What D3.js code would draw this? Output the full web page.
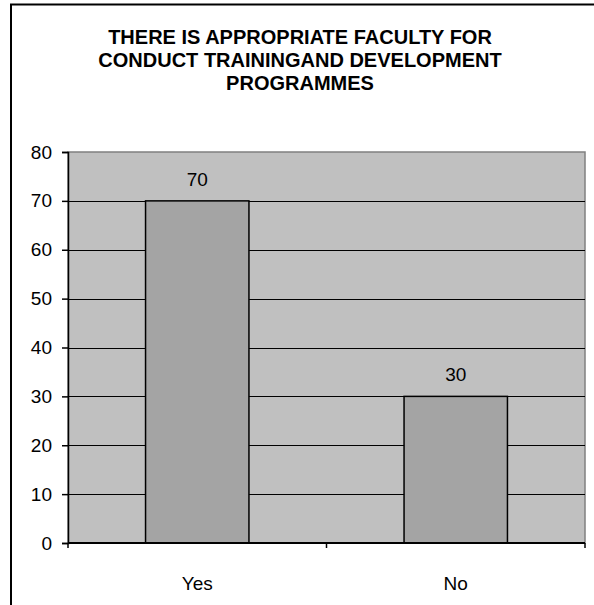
<!DOCTYPE html>
<html>
<head>
<meta charset="utf-8">
<script src="https://cdn.jsdelivr.net/npm/d3@7"></script>
<style>
  html, body { margin: 0; padding: 0; background: #ffffff; overflow: hidden; }
  svg { display: block; font-family: "Liberation Sans", Arial, sans-serif; }
</style>
</head>
<body>
<svg id="chart" width="594" height="605"></svg>
<script>
// Survey responses
const categories = ["Yes", "No"];
const values = [70, 30];
const yTicks = [0, 10, 20, 30, 40, 50, 60, 70, 80];
const titleLines = [
  "THERE IS APPROPRIATE FACULTY FOR",
  "CONDUCT TRAININGAND DEVELOPMENT",
  "PROGRAMMES"
];

const svg = d3.select("#chart");
const plot = { left: 68, right: 585, top: 152, bottom: 543 };

// Outer chart frame: only its left and top edges fall inside the page
svg.append("path")
  .attr("d", "M11,605 L11,4.5 L594,4.5")
  .attr("fill", "none")
  .attr("stroke", "#000000")
  .attr("stroke-width", 2);

// Title
const title = svg.append("text")
  .attr("text-anchor", "middle")
  .attr("font-weight", "bold")
  .attr("font-size", 20)
  .attr("fill", "#000000");
titleLines.forEach((line, i) => {
  title.append("tspan").attr("x", 300).attr("y", 44 + i * 23).text(line);
});

const x = d3.scaleBand()
  .domain(categories)
  .range([plot.left, plot.right])
  .paddingInner(0.6)
  .paddingOuter(0.3);

const xBand = d3.scaleBand()
  .domain(categories)
  .range([plot.left, plot.right]);

const y = d3.scaleLinear()
  .domain([0, 80])
  .range([plot.bottom, plot.top]);

// Plot area background
svg.append("rect")
  .attr("x", plot.left).attr("y", plot.top)
  .attr("width", plot.right - plot.left)
  .attr("height", plot.bottom - plot.top)
  .attr("fill", "#c0c0c0")
  .attr("stroke", "#808080")
  .attr("stroke-width", 1.5);

// Horizontal gridlines
svg.append("g")
  .selectAll("line")
  .data(yTicks.filter(t => t > 0 && t < 80))
  .join("line")
  .attr("x1", plot.left).attr("x2", plot.right)
  .attr("y1", d => Math.round(y(d)) + 0.5)
  .attr("y2", d => Math.round(y(d)) + 0.5)
  .attr("stroke", "#000000")
  .attr("stroke-width", 1);

// Bars
svg.append("g")
  .selectAll("rect")
  .data(values)
  .join("rect")
  .attr("x", (d, i) => x(categories[i]))
  .attr("y", d => y(d))
  .attr("width", x.bandwidth())
  .attr("height", d => y(0) - y(d))
  .attr("fill", "#a4a4a4")
  .attr("stroke", "#000000")
  .attr("stroke-width", 1.5);

// Value labels
svg.append("g")
  .selectAll("text")
  .data(values)
  .join("text")
  .attr("x", (d, i) => x(categories[i]) + x.bandwidth() / 2)
  .attr("y", d => y(d) - 15)
  .attr("text-anchor", "middle")
  .attr("font-size", 19)
  .attr("fill", "#000000")
  .text(d => d);

// Y axis
const yAxis = svg.append("g")
  .attr("transform", `translate(${plot.left},0)`)
  .call(d3.axisLeft(y).tickValues(yTicks).tickSize(6).tickPadding(10));
yAxis.select(".domain").attr("stroke", "#000000").attr("stroke-width", 1.5);
yAxis.selectAll(".tick line").attr("stroke", "#000000").attr("stroke-width", 1.5);
yAxis.selectAll(".tick text")
  .attr("font-size", 19)
  .attr("font-family", "Liberation Sans, Arial, sans-serif")
  .attr("fill", "#000000");

// X axis with ticks at category boundaries
const xAxisG = svg.append("g").attr("transform", `translate(0,${plot.bottom})`);
xAxisG.append("line")
  .attr("x1", plot.left).attr("x2", plot.right)
  .attr("y1", 0).attr("y2", 0)
  .attr("stroke", "#000000").attr("stroke-width", 2);
const boundaries = categories.map(c => xBand(c)).concat([plot.right]);
xAxisG.selectAll("line.tick")
  .data(boundaries)
  .join("line")
  .attr("class", "tick")
  .attr("x1", d => d).attr("x2", d => d)
  .attr("y1", 0).attr("y2", 5)
  .attr("stroke", "#000000").attr("stroke-width", 1.5);
xAxisG.selectAll("text")
  .data(categories)
  .join("text")
  .attr("x", d => xBand(d) + xBand.bandwidth() / 2)
  .attr("y", 47)
  .attr("text-anchor", "middle")
  .attr("font-size", 19)
  .attr("fill", "#000000")
  .text(d => d);
</script>
</body>
</html>
